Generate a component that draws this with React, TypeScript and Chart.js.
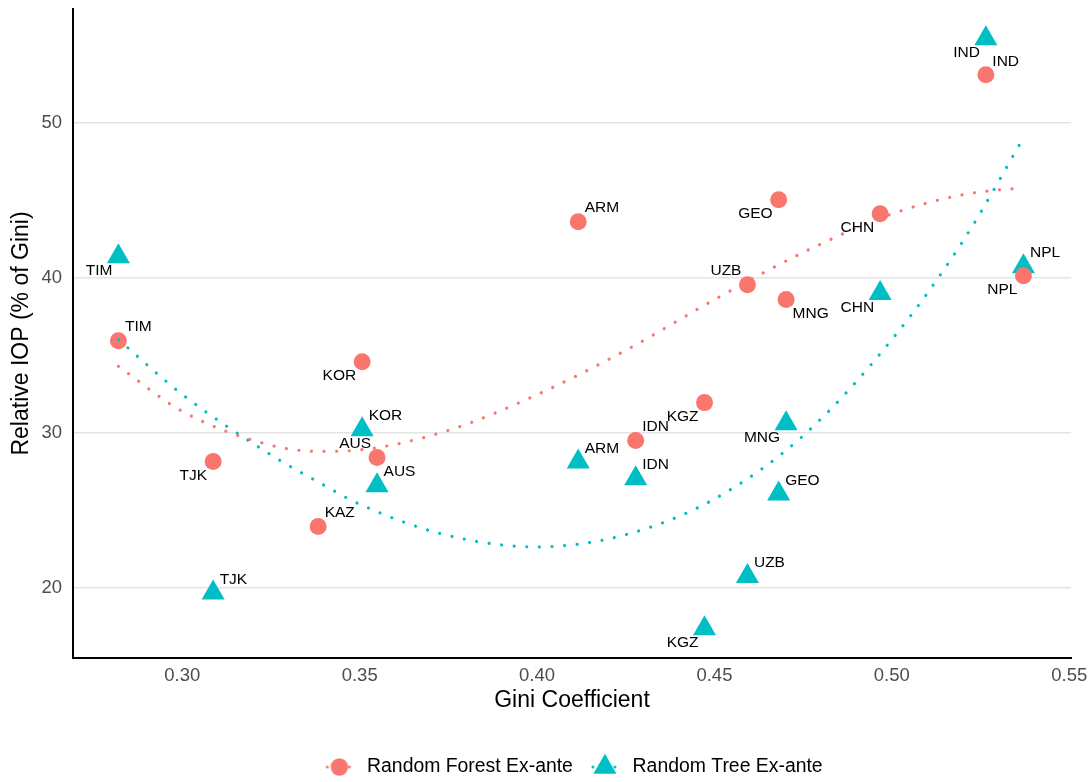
import React, { useEffect, useRef } from 'react';
import { Chart, registerables } from 'chart.js';

Chart.register(...registerables);

// ---- data ----
const countries = ['TIM', 'TJK', 'KAZ', 'KOR', 'AUS', 'ARM', 'IDN', 'KGZ', 'UZB', 'GEO', 'MNG', 'CHN', 'IND', 'NPL'];
const gini = [0.2820, 0.3087, 0.3383, 0.3507, 0.3549, 0.4116, 0.4278, 0.4472, 0.4593, 0.4681, 0.4702, 0.4967, 0.5265, 0.5371];
const rfIop = [35.93, 28.14, 23.95, 34.58, 28.4, 43.6, 29.5, 31.94, 39.54, 45.02, 38.58, 44.12, 53.07, 40.12];
const rtIop: (number | null)[] = [41.35, 19.68, null, 30.2, 26.59, 28.12, 27.04, 17.38, 20.75, 26.06, 30.59, 38.99, 55.41, 40.71];

// label placement relative to each point (compass side)
const rfLabelSide = ['ne', 'sw', 'ne', 'sw', 'nw', 'ne', 'ne', 'sw', 'nw', 'sw', 'se', 'sw', 'ne', 'sw'];
const rtLabelSide = ['sw', 'ne', '', 'ne', 'ne', 'ne', 'ne', 'sw', 'ne', 'ne', 'sw', 'sw', 'sw', 'ne'];

// trend curves
const trendGini = [0.282, 0.30, 0.325, 0.3386, 0.35, 0.375, 0.40, 0.425, 0.45, 0.475, 0.50, 0.52, 0.5371];
const rfTrend = [34.28, 31.38, 29.19, 28.8, 28.89, 30.15, 32.45, 35.31, 38.58, 41.62, 44.1, 45.34, 45.8];
const rtTrend = [36.0, 32.47, 28.57, 26.79, 25.39, 23.37, 22.64, 23.43, 25.73, 29.81, 36.0, 42.33, 49.0];

const xTicks = [0.30, 0.35, 0.40, 0.45, 0.50, 0.55];
const yTicks = [20, 30, 40, 50];

const seriesNames = ['Random Forest Ex-ante', 'Random Tree Ex-ante'];
const RED = '#F8766D';
const TEAL = '#00BFC4';
const FONT = "'Liberation Sans', Arial, Helvetica, sans-serif";

function makeKey(color: string, shape: 'circle' | 'triangle') {
  const c = document.createElement('canvas');
  c.width = 30;
  c.height = 32;
  const g = c.getContext('2d')!;
  g.fillStyle = color;
  const cx = 15, cy = 16;
  [3, 25].forEach((x) => {
    g.beginPath();
    g.arc(x, cy, 1.5, 0, Math.PI * 2);
    g.fill();
  });
  g.beginPath();
  if (shape === 'circle') {
    g.arc(cx, cy, 8.7, 0, Math.PI * 2);
  } else {
    const r = 13.3;
    let a = 0;
    g.moveTo(cx + Math.sin(a) * r, cy - Math.cos(a) * r);
    a += (2 * Math.PI) / 3;
    g.lineTo(cx + Math.sin(a) * r, cy - Math.cos(a) * r);
    a += (2 * Math.PI) / 3;
    g.lineTo(cx + Math.sin(a) * r, cy - Math.cos(a) * r);
    g.closePath();
  }
  g.fill();
  return c;
}

export default function App() {
  const ref = useRef<HTMLCanvasElement>(null);

  useEffect(() => {
    const canvas = ref.current!;
    Chart.defaults.font.family = FONT;

    const keyRF = makeKey(RED, 'circle');
    const keyRT = makeKey(TEAL, 'triangle');

    const rfPoints = countries.map((c, i) => ({ x: gini[i], y: rfIop[i], label: c, side: rfLabelSide[i] }));
    const rtPoints = countries
      .map((c, i) => ({ x: gini[i], y: rtIop[i] as number, label: c, side: rtLabelSide[i] }))
      .filter((p) => p.y !== null);

    const labelPlugin = {
      id: 'pointLabels',
      afterDatasetsDraw(chart: any) {
        const ctx = chart.ctx;
        ctx.save();
        ctx.font = `15.5px ${FONT}`;
        ctx.fillStyle = '#000';
        ctx.textBaseline = 'middle';
        [2, 3].forEach((di) => {
          const meta = chart.getDatasetMeta(di);
          const ds = chart.data.datasets[di];
          meta.data.forEach((el: any, i: number) => {
            const p = ds.data[i];
            const east = p.side.includes('e');
            const north = p.side.includes('n');
            ctx.textAlign = east ? 'left' : 'right';
            ctx.fillText(p.label, el.x + (east ? 6.5 : -6), el.y + (north ? -13.5 : 14.5));
          });
        });
        ctx.restore();
      },
    };

    const trendStyle = {
      showLine: true,
      borderWidth: 3.2,
      borderDash: [0.01, 12.6],
      borderCapStyle: 'round',
      pointRadius: 0,
      pointHoverRadius: 0,
      cubicInterpolationMode: 'monotone',
      fill: false,
    };

    const chart = new Chart(canvas, {
      type: 'scatter',
      data: {
        datasets: [
          {
            label: 'rf-trend',
            data: trendGini.map((x, i) => ({ x, y: rfTrend[i] })),
            borderColor: RED,
            backgroundColor: RED,
            ...trendStyle,
          } as any,
          {
            label: 'rt-trend',
            data: trendGini.map((x, i) => ({ x, y: rtTrend[i] })),
            borderColor: TEAL,
            backgroundColor: TEAL,
            ...trendStyle,
          } as any,
          {
            label: seriesNames[0],
            data: rfPoints,
            pointStyle: 'circle',
            pointRadius: 8.5,
            pointHoverRadius: 8.5,
            pointBackgroundColor: RED,
            backgroundColor: RED,
            borderColor: RED,
            pointBorderWidth: 0,
          } as any,
          {
            label: seriesNames[1],
            data: rtPoints,
            pointStyle: 'triangle',
            pointRadius: 13.3,
            pointHoverRadius: 13.3,
            pointBackgroundColor: TEAL,
            backgroundColor: TEAL,
            borderColor: TEAL,
            pointBorderWidth: 0,
          } as any,
        ],
      },
      options: {
        responsive: false,
        animation: false,
        events: [],
        layout: { autoPadding: false, padding: { top: 9, right: 18, bottom: -4.7, left: 0 } },
        plugins: {
          tooltip: { enabled: false },
          legend: {
            position: 'bottom',
            fullSize: false,
            labels: {
              usePointStyle: true,
              pointStyleWidth: 36,
              padding: 14,
              color: '#000',
              font: { size: 19.4 },
              generateLabels: (ch: any) => {
                const items = (Chart.defaults.plugins.legend.labels as any).generateLabels(ch);
                return items
                  .filter((it: any) => it.datasetIndex >= 2)
                  .map((it: any) => ({
                    ...it,
                    pointStyle: it.datasetIndex === 2 ? keyRF : keyRT,
                    lineWidth: 0,
                  }));
              },
            },
          },
        },
        scales: {
          x: {
            type: 'linear',
            min: 0.2692,
            max: 0.5505,
            afterBuildTicks: (s: any) => {
              s.ticks = xTicks.map((v) => ({ value: v }));
            },
            afterFit: (s: any) => {
              s.height = 85.3;
              s.paddingLeft = 0;
              s.paddingRight = 0;
            },
            ticks: {
              color: '#4d4d4d',
              font: { size: 18.5 },
              padding: 7,
              maxRotation: 0,
              autoSkip: false,
              callback: (v: any) => Number(v).toFixed(2),
            },
            grid: { display: false, drawTicks: false },
            border: { display: true, color: '#000', width: 2 },
            title: {
              display: true,
              text: 'Gini Coefficient',
              color: '#000',
              font: { size: 23 },
              padding: { top: 0, bottom: 28.5 },
            },
          },
          y: {
            type: 'linear',
            min: 15.48,
            max: 57.31,
            afterBuildTicks: (s: any) => {
              s.ticks = yTicks.map((v) => ({ value: v }));
            },
            afterFit: (s: any) => {
              s.width = 73;
              s.paddingTop = 0;
              s.paddingBottom = 0;
            },
            ticks: {
              color: '#4d4d4d',
              font: { size: 18.5 },
              padding: 11,
              callback: (v: any) => String(v),
            },
            grid: { color: '#e4e4e4', lineWidth: 1.6, drawTicks: false },
            border: { display: true, color: '#000', width: 2 },
            title: {
              display: true,
              text: 'Relative IOP (% of Gini)',
              color: '#000',
              font: { size: 23 },
              padding: { top: 8, bottom: 0 },
            },
          },
        },
      } as any,
      plugins: [labelPlugin],
    });

    return () => chart.destroy();
  }, []);

  return (
    <div style={{ position: 'fixed', left: 0, top: 0, width: 1089, height: 782, background: '#fff' }}>
      <canvas ref={ref} width={1089} height={782} style={{ display: 'block' }} />
    </div>
  );
}
